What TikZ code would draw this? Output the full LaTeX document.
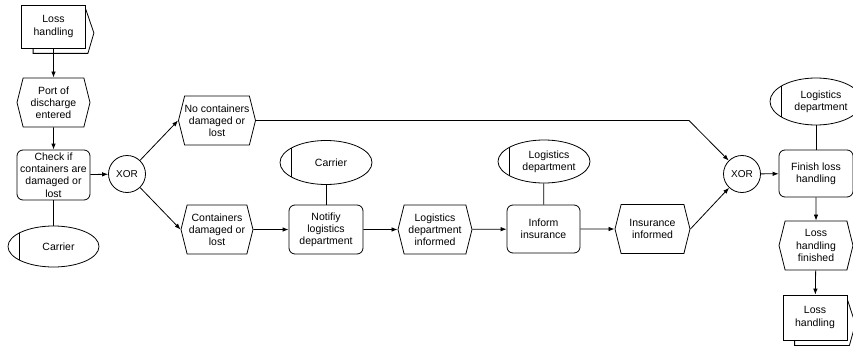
\documentclass[tikz,border=0pt]{standalone}
\usepackage{fontspec}
\setmainfont{Liberation Sans}
\usetikzlibrary{shapes.symbols,shapes.geometric,arrows.meta}

\tikzset{
  every node/.style={font=\fontsize{10.5}{12.2}\selectfont, align=center, inner sep=0pt},
  base/.style={draw=black, line width=0.8pt},
  evt/.style={base, signal, signal to=west and east, signal pointer angle=152,
              minimum width=73pt, minimum height=49pt},
  func/.style={base, rectangle, rounded corners=6pt, minimum width=73pt, minimum height=49pt},
  orgunit/.style={base, ellipse, minimum width=92pt, minimum height=44pt,
              path picture={\draw[line width=0.8pt]
                ([xshift=11pt]path picture bounding box.south west) --
                ([xshift=11pt]path picture bounding box.north west);}},
  conn/.style={base, circle, minimum size=37pt, font=\fontsize{10}{12}\selectfont},
  iface/.style={base, rectangle, fill=white, minimum width=64pt, minimum height=44pt},
  flow/.style={line width=0.8pt, -{Latex[length=6pt,width=4.5pt]}},
  link/.style={line width=0.8pt},
}

% back sheet of a process interface, behind the front box #1
\newcommand{\ifaceback}[1]{%
  \draw[line width=0.8pt]
    ([xshift=12pt]#1.south west) -- ([xshift=12pt,yshift=-5pt]#1.south west)
    -- ([xshift=2pt,yshift=-5pt]#1.south east)
    -- ([xshift=8pt,yshift=-6.5pt]#1.east) -- ([xshift=0pt,yshift=-5pt]#1.north east);}

\begin{document}
\begin{tikzpicture}[x=1pt,y=-1pt]
\useasboundingbox (0,0) rectangle (853,345);
\clip (0,0) rectangle (853,345);

% left column
\node[iface, minimum height=43pt] (lh1) at (53.5,26.5) {Loss\\handling};
\ifaceback{lh1}
\node[evt] (ev1) at (53.5,102.5) {Port of\\discharge\\entered};
\node[func, minimum height=50pt] (fn1) at (53.5,175) {Check if\\containers are\\damaged or\\lost};
\node[orgunit, minimum height=41pt, minimum width=91pt] (or1) at (53.5,246.5) {\hspace*{10pt}Carrier};

% split
\node[conn] (xor1) at (127,174) {XOR};
\node[evt, minimum width=72pt] (ev2) at (217,120.5) {No containers\\damaged or\\lost};
\node[evt, minimum width=72pt] (ev3) at (217,229.5) {Containers\\damaged or\\lost};

% lower chain
\node[func, minimum width=74pt] (fn2) at (326,229.5) {Notifiy\\logistics\\department};
\node[orgunit] (or2) at (326,162.5) {\hspace*{10pt}Carrier};
\node[evt, minimum width=74pt] (ev4) at (435,229.5) {Logistics\\department\\informed};
\node[func, minimum height=48pt] (fn3) at (543.5,229) {Inform\\insurance};
\node[orgunit, minimum height=43pt] (or3) at (544,161.5) {\hspace*{10pt}Logistics\\\hspace*{10pt}department};
\node[evt, minimum width=75pt] (ev5) at (652.5,229) {Insurance\\informed};

% join and right column
\node[conn] (xor2) at (742,174) {XOR};
\coordinate (bend) at (689,120.5);
\node[func, minimum width=74pt, minimum height=47pt] (fn4) at (816,173.5) {Finish loss\\handling};
\node[orgunit, minimum height=47pt] (or4) at (816,101.5) {\hspace*{10pt}Logistics\\\hspace*{10pt}department};
\node[evt, minimum width=74pt] (ev6) at (816,245.5) {Loss\\handling\\finished};
\node[iface, minimum height=45pt] (lh2) at (815,317.5) {Loss\\handling};
\ifaceback{lh2}

% control flow
\draw[flow] (lh1) -- (ev1);
\draw[flow] (ev1) -- (fn1);
\draw[flow] (fn1) -- (xor1);
\draw[flow] (xor1) -- (ev2.west);
\draw[flow] (xor1) -- (ev3.west);
\draw[flow] (ev3) -- (fn2);
\draw[flow] (fn2) -- (ev4);
\draw[flow] (ev4) -- (fn3);
\draw[flow] (fn3) -- (ev5);
\draw[flow] (ev2.east) -- (bend) -- (xor2);
\draw[flow] (ev5.east) -- (xor2);
\draw[flow] (xor2) -- (fn4);
\draw[flow] (fn4) -- (ev6);
\draw[flow] (ev6) -- (lh2);

% organisational assignments
\draw[link] (fn1) -- (or1);
\draw[link] (fn2) -- (or2);
\draw[link] (fn3) -- (or3);
\draw[link] (fn4) -- (or4);
\end{tikzpicture}
\end{document}
